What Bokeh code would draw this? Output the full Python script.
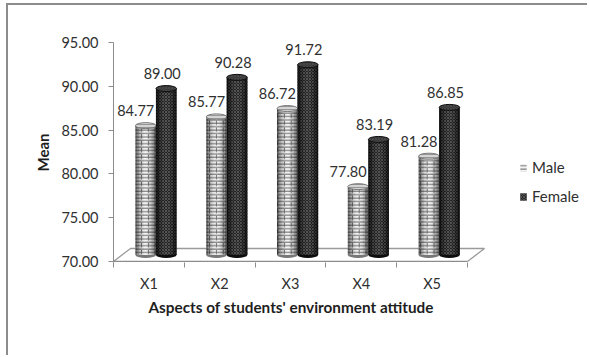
from bokeh.plotting import figure
from bokeh.models import (FixedTicker, NumeralTickFormatter, Legend, LegendItem, Title,
                          ColumnDataSource, Range1d)
from bokeh.core.properties import value
from bokeh.embed import file_html
from bokeh.resources import INLINE

# ---- data -------------------------------------------------------------
categories = ["X1", "X2", "X3", "X4", "X5"]
male = [84.77, 85.77, 86.72, 77.80, 81.28]
female = [89.00, 90.28, 91.72, 83.19, 86.85]
y_ticks = [70, 75, 80, 85, 90, 95]

FONT = "Lato"
TEXT = "#303030"
AXIS = "#8c8c8c"

BASE = 70.0
DX, DY = 0.24, 1.48          # depth of the 3-D floor in data units
LIFT = DY / 2                # cylinders stand half way back on the floor
BAR_W = 0.29
CAP_H = 0.68
N_STRIPS = 12
UNIT_PX = 70.8               # width of one category on screen

series = [
    dict(name="Male", values=male, off=0.455, fill="#f2f2f2", hatch="horizontal_line",
         hatch_color="#6a6a6a", hatch_scale=3.4, shade=0.62, cap="#d4d4d4",
         cap_line="#777777", label_dx=-10),
    dict(name="Female", values=female, off=0.745, fill="#262626", hatch="diagonal_cross",
         hatch_color="#555555", hatch_scale=3.0, shade=0.8, cap="#363636",
         cap_line="#0d0d0d", label_dx=-4),
]

n = len(categories)
W, H = 581, 352
LEFT, TOP, BOTTOM, RIGHT = 105, 37, 95, 9
frame_w = W - LEFT - RIGHT
p = figure(width=W, height=H, x_range=Range1d(0, frame_w / UNIT_PX),
           y_range=Range1d(69.88, 95),
           output_backend="svg", toolbar_location=None,
           min_border_left=LEFT, min_border_right=RIGHT, min_border_top=TOP,
           min_border_bottom=BOTTOM)
p.outline_line_color = None
p.xgrid.visible = False
p.ygrid.visible = False
p.background_fill_color = "white"
p.border_fill_color = "white"

# ---- floor of the 3-D chart ------------------------------------------
p.line([0, DX, n + DX, n], [BASE, BASE + DY, BASE + DY, BASE], line_color="#9a9a9a", line_width=1.3)
p.line([0, n], [BASE, BASE], line_color=AXIS, line_width=1.3)

legend_items = []
for s in series:
    xs = [i + s["off"] for i in range(n)]
    tops = [v + LIFT for v in s["values"]]
    # bottom rim
    p.ellipse(x=xs, y=[BASE + LIFT] * n, width=BAR_W, height=CAP_H,
              fill_color=s["cap_line"], line_color=None)
    # body of each cylinder
    body = p.vbar(x=xs, top=tops, bottom=BASE + LIFT, width=BAR_W,
                  fill_color=s["fill"], line_color=None,
                  hatch_pattern=s["hatch"], hatch_color=s["hatch_color"],
                  hatch_scale=s["hatch_scale"], hatch_weight=1.0)
    if s["name"] == "Male":
        # staggered joints of the brick texture
        p.vbar(x=xs, top=tops, bottom=BASE + LIFT, width=BAR_W, fill_alpha=0, line_color=None,
               hatch_pattern="vertical_dash", hatch_color=s["hatch_color"],
               hatch_scale=6.8, hatch_weight=1.0)
    # round shading across the cylinder
    sx, st, sa = [], [], []
    for k in range(N_STRIPS):
        t = (k + 0.5) / N_STRIPS * 2 - 1
        for i in range(n):
            sx.append(xs[i] + t * BAR_W / 2)
            st.append(tops[i])
            sa.append(s["shade"] * abs(t) ** 2.0)
    src = ColumnDataSource(dict(x=sx, top=st, a=sa))
    p.vbar(x="x", top="top", bottom=BASE + LIFT, width=BAR_W / N_STRIPS + 0.002, source=src,
           fill_color="black", fill_alpha="a", line_color=None)
    # top cap
    p.ellipse(x=xs, y=tops, width=BAR_W, height=CAP_H, fill_color=s["cap"],
              line_color=s["cap_line"], line_width=1,
              hatch_pattern=s["hatch"], hatch_color=s["hatch_color"], hatch_scale=3.0,
              hatch_alpha=0.6)
    # value labels
    p.text(x=xs, y=tops, text=[f"{v:.2f}" for v in s["values"]],
           x_offset=s["label_dx"], y_offset=-15, text_align="center", text_baseline="middle",
           text_font=value(FONT), text_font_size="14.5px", text_color=TEXT)
    legend_items.append(LegendItem(label=s["name"], renderers=[body]))

# ---- axes -------------------------------------------------------------
yax = p.yaxis[0]
yax.ticker = FixedTicker(ticks=y_ticks)
yax.formatter = NumeralTickFormatter(format="0.00")
yax.axis_line_color = AXIS
yax.major_tick_line_color = AXIS
yax.major_tick_out = 5
yax.major_tick_in = 0
yax.minor_tick_line_color = None
yax.major_label_standoff = 10
yax.major_label_text_font = FONT
yax.major_label_text_font_size = "14.5px"
yax.major_label_text_color = TEXT
yax.axis_label = "Mean"
yax.axis_label_text_font = FONT
yax.axis_label_text_font_size = "15px"
yax.axis_label_text_font_style = "bold"
yax.axis_label_text_color = "#1e1e1e"
yax.axis_label_standoff = 6

xax = p.xaxis[0]
centers = [i + 0.5 for i in range(n)]
xax.ticker = FixedTicker(ticks=centers, minor_ticks=list(range(n + 1)))
xax.major_label_overrides = {c: lab for c, lab in zip(centers, categories)}
xax.axis_line_color = None
xax.major_tick_line_color = None
xax.minor_tick_line_color = AXIS
xax.minor_tick_out = 5
xax.minor_tick_in = 0
xax.major_label_standoff = 6
xax.major_label_text_font = FONT
xax.major_label_text_font_size = "14.5px"
xax.major_label_text_color = TEXT

# axis title placed under the category axis (not under the whole frame)
p.add_layout(Title(text="Aspects of students' environment attitude", align="left",
                   offset=35, standoff=2, text_font=FONT, text_font_size="15.3px",
                   text_font_style="bold", text_color="#1e1e1e"), "below")

legend = Legend(items=legend_items, location=(406, 57), orientation="vertical",
                glyph_width=8, glyph_height=9, label_standoff=5, spacing=11, padding=0,
                margin=0, label_text_font=FONT, label_text_font_size="15px",
                label_text_color=TEXT, border_line_color=None, background_fill_alpha=0)
p.add_layout(legend)

# outer frame of the chart
p.styles = {"border-top": "2px solid #8c8c8c", "border-left": "2px solid #8c8c8c",
            "margin-left": "6px", "margin-top": "3px"}

open("out.html", "w").write(file_html(p, INLINE))
